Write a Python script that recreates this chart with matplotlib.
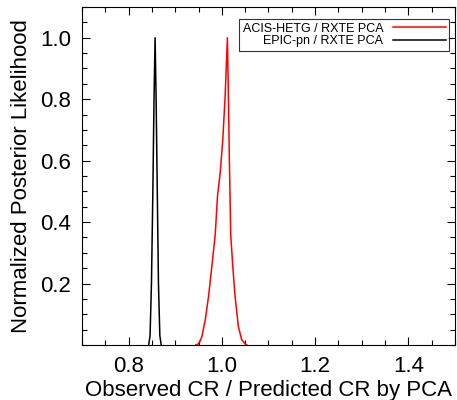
import numpy as np
import matplotlib
matplotlib.use('Agg')
import matplotlib.pyplot as plt
from matplotlib.ticker import MultipleLocator, FixedLocator

plt.rcParams['font.family'] = ['Liberation Sans', 'DejaVu Sans']

# ACIS-HETG / RXTE PCA posterior
acis_x = [0.944, 0.9481, 0.9525, 0.9573, 0.9645, 0.9715, 0.9785, 0.9858, 0.9906,
          0.9964, 1.002, 1.007, 1.0119, 1.014, 1.0162, 1.019, 1.0232, 1.0283,
          1.0353, 1.0423, 1.0516, 1.054]
acis_y = [0.0, 0.002, 0.01, 0.028, 0.083, 0.159, 0.256, 0.36, 0.484,
          0.56, 0.668, 0.809, 1.0, 0.809, 0.593, 0.36, 0.26, 0.159,
          0.061, 0.018, 0.0, 0.0]

# EPIC-pn / RXTE PCA posterior
epic_x = [0.843, 0.846, 0.849, 0.852, 0.8545, 0.8568, 0.859, 0.8615, 0.864, 0.867, 0.870]
epic_y = [0.0, 0.03, 0.2, 0.5, 0.8, 1.0, 0.8, 0.5, 0.2, 0.03, 0.0]

fig = plt.figure(figsize=(4.57, 4.0), dpi=100)
ax = fig.add_axes([0.1794, 0.1375, 0.8162, 0.845])

ax.plot(acis_x, acis_y, color='red', lw=1.1, label='ACIS-HETG / RXTE PCA')
ax.plot(epic_x, epic_y, color='black', lw=1.1, label='EPIC-pn / RXTE PCA')

ax.set_xlim(0.7, 1.5)
ax.set_ylim(0.0, 1.1)
ax.xaxis.set_major_locator(FixedLocator([0.8, 1.0, 1.2, 1.4]))
ax.xaxis.set_minor_locator(MultipleLocator(0.05))
ax.yaxis.set_major_locator(FixedLocator([0.2, 0.4, 0.6, 0.8, 1.0]))
ax.yaxis.set_minor_locator(MultipleLocator(0.05))
ax.tick_params(which='both', direction='in', top=True, right=True, width=0.8)
ax.tick_params(which='major', length=6, labelsize=16, pad=8)
ax.tick_params(which='minor', length=3.5)
for s in ax.spines.values():
    s.set_linewidth(0.8)

ax.set_xlabel('Observed CR / Predicted CR by PCA', fontsize=16, labelpad=2)
ax.set_ylabel('Normalized Posterior Likelihood', fontsize=16, labelpad=6)

leg = ax.legend(loc='upper right', bbox_to_anchor=(0.985, 0.965), markerfirst=False,
                fontsize=9, frameon=True, fancybox=False, edgecolor='black',
                handlelength=4.2, handletextpad=0.8, labelspacing=0.05,
                borderpad=0.3, borderaxespad=0)
leg.get_frame().set_linewidth(0.8)

fig.savefig('out.png', dpi=100)
